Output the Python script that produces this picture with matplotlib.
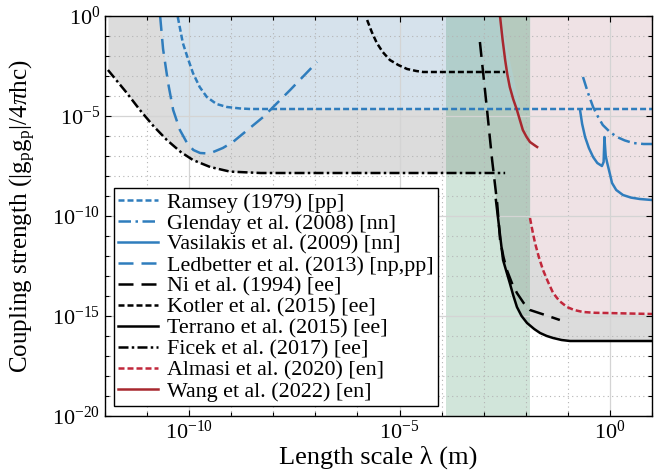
import numpy as np
import matplotlib
matplotlib.use("Agg")
import matplotlib.pyplot as plt
from matplotlib.ticker import FixedLocator, LogFormatterMathtext, NullFormatter

plt.rcParams["font.family"] = "Liberation Serif"
plt.rcParams["mathtext.fontset"] = "custom"
plt.rcParams["mathtext.rm"] = "Liberation Serif"
plt.rcParams["mathtext.it"] = "Liberation Serif:italic"

# curves, as log10(lambda / m) and log10(coupling)
ramsey_lx = [-10.27, -10.15, -10.05, -9.91, -9.75, -9.58, -9.35, -9.10, -8.80, -8.55, 1.0]
ramsey_ly = [-0.05, -1.35, -2.00, -2.85, -3.55, -4.05, -4.40, -4.55, -4.62, -4.65, -4.65]

glenday_lx = [-0.64, -0.52, -0.40, -0.28, -0.17, 0.0, 0.17, 0.35, 0.55, 0.80, 1.0]
glenday_ly = [-3.05, -3.85, -4.55, -5.05, -5.45, -5.80, -6.05, -6.22, -6.35, -6.40, -6.40]

vasil_lx = [-0.71, -0.66, -0.59, -0.50, -0.40, -0.30, -0.19, -0.15, -0.13, -0.12, -0.10,
            -0.07, 0.0, 0.05, 0.15, 0.31, 0.50, 0.71, 1.0]
vasil_ly = [-4.70, -5.40, -6.05, -6.60, -7.05, -7.35, -7.50, -7.30, -6.05, -6.40, -7.00,
            -7.30, -7.90, -8.35, -8.70, -8.95, -9.08, -9.15, -9.20]

ledb_lx = [-10.69, -10.62, -10.50, -10.38, -10.22, -10.05, -9.90, -9.74, -9.58, -9.43,
           -9.20, -8.96, -8.24, -7.60, -6.96]
ledb_ly = [0.0, -1.65, -3.35, -4.70, -5.70, -6.35, -6.70, -6.85, -6.87, -6.80,
           -6.60, -6.30, -5.05, -3.70, -2.30]

ni_lx = [-3.09, -3.02, -2.92, -2.80, -2.68, -2.61, -2.53, -2.45, -2.33, -2.21, -2.05,
         -1.90, -1.54, -1.19]
ni_ly = [-1.30, -2.70, -4.70, -7.20, -9.35, -11.20, -12.05, -12.70, -13.35, -13.85, -14.35,
         -14.70, -14.95, -15.20]

kotler_lx = [-5.77, -5.66, -5.54, -5.40, -5.23, -5.03, -4.82, -4.60, -4.44, -2.49]
kotler_ly = [-0.20, -0.80, -1.35, -1.80, -2.20, -2.45, -2.65, -2.75, -2.80, -2.80]

terrano_lx = [-2.71, -2.62, -2.54, -2.45, -2.38, -2.30, -2.21, -2.10, -1.97, -1.80,
              -1.66, -1.50, -1.35, -1.15, -0.95, 1.0]
terrano_ly = [-9.20, -10.80, -12.20, -12.85, -13.35, -13.95, -14.55, -15.00, -15.35, -15.65,
              -15.85, -16.00, -16.10, -16.20, -16.25, -16.25]

ficek_lx = [-11.93, -11.50, -11.17, -10.85, -10.53, -10.20, -9.91, -9.50, -9.03, -8.30, -2.49]
ficek_ly = [-2.70, -3.80, -4.70, -5.50, -6.20, -6.80, -7.20, -7.55, -7.78, -7.85, -7.85]

almasi_lx = [-1.90, -1.84, -1.78, -1.69, -1.59, -1.47, -1.35, -1.20, -1.02, -0.85,
             -0.64, -0.35, -0.07, 1.0]
almasi_ly = [-10.10, -10.75, -11.35, -12.05, -12.70, -13.30, -13.85, -14.25, -14.55, -14.70,
             -14.80, -14.84, -14.85, -14.90]

wang_lx = [-2.61, -2.55, -2.49, -2.44, -2.38, -2.30, -2.21, -2.14, -2.07, -1.98, -1.90, -1.80, -1.73]
wang_ly = [-0.05, -1.20, -2.20, -2.90, -3.55, -4.15, -4.70, -5.20, -5.70, -6.05, -6.30, -6.45, -6.55]

# right edge of the pp/nn shaded area, and the green band
blue_edge_lx = [-2.13, -2.60]
blue_edge_ly = [-4.65, 0.0]
band_lx = [-3.90, -1.89]

blue = "#2f7dbd"
red_dark = "#a8282f"
red = "#c1273b"

def p(a):
    return 10.0 ** np.asarray(a)

fig = plt.figure(figsize=(6.62, 4.72), dpi=100)
ax = fig.add_axes([105 / 662, 56 / 472, 547 / 662, 400 / 472])
ax.set_xscale("log")
ax.set_yscale("log")

# shaded regions
gray = "#dcdcdc"
for lx, ly in [(ficek_lx, ficek_ly), (ni_lx, ni_ly), (terrano_lx, terrano_ly)]:
    ax.fill_between(p(lx), p(ly), 1.0, color=gray, lw=0, zorder=0.6)

lightblue = "#d6e2ec"
ax.fill_between(p(ledb_lx), p(ledb_ly), 1.0, color=lightblue, lw=0, zorder=0.7)
keep = [i for i, v in enumerate(ramsey_lx) if v < blue_edge_lx[0]]
poly_x = [ramsey_lx[i] for i in keep] + blue_edge_lx + [ramsey_lx[0]]
poly_y = [ramsey_ly[i] for i in keep] + blue_edge_ly + [0.0]
ax.fill(p(poly_x), p(poly_y), color=lightblue, lw=0, zorder=0.7)

ax.fill_between(p(almasi_lx), p(almasi_ly), 1.0, color="#efe2e5", lw=0, zorder=0.8)
ax.axvspan(p(band_lx[0]), p(band_lx[1]), color="#2e8b57", alpha=0.22, lw=0, zorder=1.0)

# limit curves
lw = 1.8
ax.plot(p(ramsey_lx), p(ramsey_ly), color=blue, lw=lw, ls=(0, (2.4, 1.2)), label="Ramsey (1979) [pp]")
ax.plot(p(glenday_lx), p(glenday_ly), color=blue, lw=lw, ls=(0, (5.0, 1.8, 1.0, 1.8)), label="Glenday et al. (2008) [nn]")
ax.plot(p(vasil_lx), p(vasil_ly), color=blue, lw=lw, label="Vasilakis et al. (2009) [nn]")
ax.plot(p(ledb_lx), p(ledb_ly), color=blue, lw=lw, ls=(0, (6.0, 3.2)), label="Ledbetter et al. (2013) [np,pp]")
ax.plot(p(ni_lx), p(ni_ly), color="black", lw=lw, ls=(0, (6.0, 3.2)), label="Ni et al. (1994) [ee]")
ax.plot(p(kotler_lx), p(kotler_ly), color="black", lw=lw, ls=(0, (2.4, 1.2)), label="Kotler et al. (2015) [ee]")
ax.plot(p(terrano_lx), p(terrano_ly), color="black", lw=lw, label="Terrano et al. (2015) [ee]")
ax.plot(p(ficek_lx), p(ficek_ly), color="black", lw=lw, ls=(0, (4.0, 1.3, 1.0, 1.3)), label="Ficek et al. (2017) [ee]")
ax.plot(p(almasi_lx), p(almasi_ly), color=red, lw=lw, ls=(0, (2.4, 1.2)), label="Almasi et al. (2020) [en]")
ax.plot(p(wang_lx), p(wang_ly), color=red_dark, lw=lw, label="Wang et al. (2022) [en]")

ax.set_xlim(1e-12, 1e1)
ax.set_ylim(1e-20, 1e0)

ax.xaxis.set_major_locator(FixedLocator([1e-10, 1e-5, 1e0]))
ax.xaxis.set_minor_locator(FixedLocator(p(np.arange(-12, 2))))
ax.yaxis.set_major_locator(FixedLocator(p([-20, -15, -10, -5, 0])))
ax.yaxis.set_minor_locator(FixedLocator(p(np.arange(-20, 1))))
ax.xaxis.set_major_formatter(LogFormatterMathtext())
ax.yaxis.set_major_formatter(LogFormatterMathtext())
ax.xaxis.set_minor_formatter(NullFormatter())
ax.yaxis.set_minor_formatter(NullFormatter())

ax.grid(True, which="major", color="#d4d4d4", lw=0.9, ls="-")
ax.grid(True, which="minor", color="#b4b4b4", lw=0.8, ls=(0, (1, 3)))
ax.tick_params(which="both", direction="in", top=True, right=True, labelsize=16, width=0.8)
ax.tick_params(which="major", length=4)
ax.tick_params(which="minor", length=3)
for s in ax.spines.values():
    s.set_linewidth(1.0)

ax.set_xlabel("Length scale λ (m)", fontsize=19)
ax.set_ylabel(r"Coupling strength (|g$_\mathregular{p}$g$_\mathregular{p}$|/4$\pi$hc)", fontsize=18)
ax.xaxis.set_label_coords(0.5, -0.075)
ax.yaxis.set_label_coords(-0.122, 0.5)

leg = ax.legend(loc="upper left", bbox_to_anchor=(0.0165, 0.57), borderaxespad=0,
                fontsize=15.8, labelspacing=0.03, handlelength=1.8, handletextpad=0.4,
                borderpad=0.2, fancybox=False, framealpha=1, edgecolor="black")
leg.get_frame().set_linewidth(1.0)

fig.savefig("out.png", dpi=100)
